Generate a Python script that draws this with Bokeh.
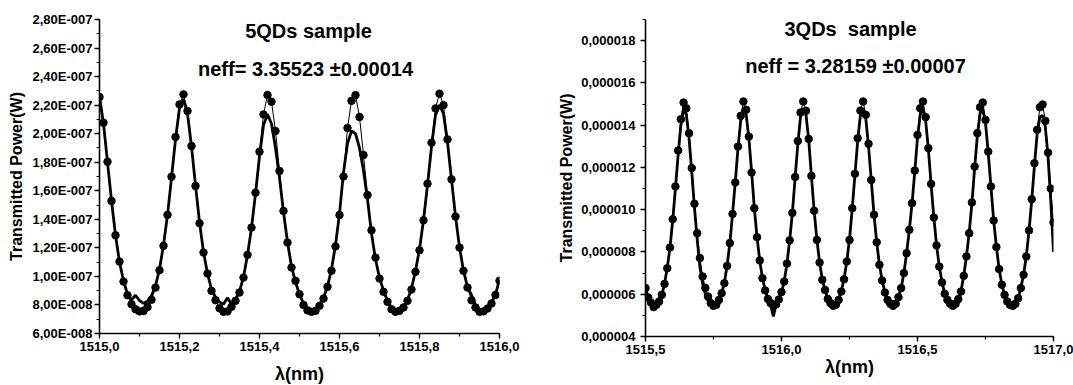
import numpy as np
from bokeh.plotting import figure
from bokeh.layouts import row
from bokeh.models import Range1d, SingleIntervalTicker, CustomJSTickFormatter, Label
from bokeh.embed import file_html
from bokeh.resources import INLINE

# ---------------- data ----------------
# Left panel: 5QDs sample, wavelength grid 1515.00 .. 1516.00 step 0.01 nm, power in 1e-8 W
left_start, left_step = 1515.00, 0.01
left_data_e8 = [
    22.57, 20.77, 18.04, 15.29, 12.88, 11.04, 9.64, 8.68, 8.05, 7.70,
    7.55, 7.58, 7.85, 8.36, 9.22, 10.43, 12.14, 14.31, 16.99, 19.77,
    22.05, 22.75, 21.59, 19.14, 16.34, 13.72, 11.67, 10.20, 8.99, 8.33,
    7.77, 7.52, 7.55, 7.87, 8.29, 8.87, 9.92, 11.51, 13.42, 15.87,
    18.74, 21.35, 22.71, 22.24, 20.19, 17.39, 14.59, 12.37, 10.62, 9.69,
    8.75, 8.00, 7.62, 7.52, 7.59, 7.94, 8.45, 9.27, 10.40, 12.10,
    14.30, 17.00, 20.40, 22.30, 22.70, 21.17, 18.50, 15.70, 13.23, 11.32,
    9.85, 8.92, 8.22, 7.70, 7.52, 7.59, 7.82, 8.29, 9.08, 10.32,
    11.83, 13.93, 16.50, 19.37, 21.77, 22.80, 22.00, 19.60, 16.80, 14.19,
    12.02, 10.39, 9.22, 8.33, 7.82, 7.52, 7.55, 7.75, 8.10, 8.70,
    9.70,
]
left_fit_e8 = [
    22.60, 20.70, 18.00, 15.30, 12.90, 11.00, 9.70, 8.75, 8.35, 8.68,
    8.30, 8.12, 8.25, 8.65, 9.35, 10.50, 12.20, 14.30, 16.90, 19.60,
    21.80, 22.40, 21.40, 19.10, 16.40, 13.80, 11.70, 10.20, 9.10, 8.55,
    8.20, 8.05, 8.50, 8.05, 8.40, 8.95, 9.95, 11.50, 13.40, 15.80,
    18.40, 20.60, 21.35, 20.70, 19.00, 16.90, 14.50, 12.40, 10.70, 9.60,
    8.75, 8.10, 7.72, 7.60, 7.68, 8.00, 8.50, 9.30, 10.50, 12.20,
    14.40, 17.30, 19.30, 20.20, 20.00, 19.00, 17.40, 15.40, 13.00, 11.20,
    9.90, 9.00, 8.30, 7.80, 7.62, 7.66, 7.88, 8.35, 9.15, 10.40,
    11.90, 13.95, 16.40, 19.10, 21.30, 22.00, 21.40, 19.40, 16.80, 14.20,
    12.05, 10.40, 9.25, 8.70, 8.00, 7.65, 7.62, 7.82, 8.15, 8.75,
    9.75,
]

# Right panel: 3QDs sample, wavelength grid 1515.50 .. 1517.00 step 0.01 nm, power in 1e-6 W
right_start, right_step = 1515.50, 0.01
right_data_e6 = [
    6.29, 5.85, 5.61, 5.39, 5.50, 5.66, 5.97, 6.49, 7.23, 8.21,
    9.55, 11.10, 12.80, 14.28, 15.07, 14.80, 13.62, 11.97, 10.28, 8.89,
    7.71, 6.84, 6.30, 5.89, 5.58, 5.45, 5.50, 5.73, 6.05, 6.52,
    7.34, 8.42, 9.80, 11.29, 12.99, 14.44, 15.12, 14.73, 13.46, 11.76,
    10.07, 8.70, 7.60, 6.76, 6.18, 5.78, 5.58, 5.45, 5.52, 5.75,
    6.10, 6.60, 7.45, 8.55, 9.85, 11.55, 13.25, 14.60, 15.12, 14.68,
    13.35, 11.60, 9.95, 8.57, 7.50, 6.68, 6.20, 5.78, 5.58, 5.45,
    5.50, 5.73, 6.13, 6.71, 7.55, 8.57, 10.07, 11.70, 13.38, 14.69,
    15.12, 14.49, 13.12, 11.41, 9.76, 8.46, 7.39, 6.65, 6.08, 5.73,
    5.55, 5.45, 5.55, 5.86, 6.29, 7.00, 7.94, 9.05, 10.31, 11.85,
    13.54, 14.80, 15.12, 14.38, 12.91, 11.22, 9.63, 8.31, 7.31, 6.56,
    6.02, 5.73, 5.55, 5.45, 5.55, 5.77, 6.13, 6.87, 7.79, 8.89,
    10.34, 12.04, 13.62, 14.85, 15.07, 14.25, 12.75, 11.10, 9.49, 8.23,
    7.19, 6.45, 5.97, 5.66, 5.50, 5.45, 5.55, 5.81, 6.29, 6.92,
    7.79, 9.02, 10.50, 12.20, 13.78, 14.85, 14.98, 14.20, 12.70, 11.00,
    9.40,
]
right_fit_e6 = [
    6.30, 5.80, 5.50, 5.30, 5.45, 5.65, 5.95, 6.50, 7.25, 8.20,
    9.50, 11.00, 12.60, 14.00, 14.75, 14.50, 13.40, 11.80, 10.10, 8.60,
    7.30, 6.50, 6.00, 5.70, 5.50, 5.45, 5.50, 5.70, 6.05, 6.55,
    7.35, 8.40, 9.80, 11.30, 12.90, 14.20, 14.80, 14.50, 13.40, 11.80,
    10.10, 8.70, 7.60, 6.75, 6.20, 5.75, 5.50, 4.95, 5.50, 5.75,
    6.10, 6.60, 7.45, 8.55, 9.85, 11.50, 13.10, 14.40, 14.80, 14.50,
    13.30, 11.60, 9.95, 8.60, 7.50, 6.70, 6.20, 5.80, 5.60, 5.48,
    5.52, 5.75, 6.15, 6.72, 7.55, 8.60, 10.05, 11.65, 13.25, 14.45,
    14.80, 14.30, 13.00, 11.40, 9.78, 8.47, 7.40, 6.66, 6.10, 5.75,
    5.57, 5.48, 5.57, 5.88, 6.30, 7.00, 7.95, 9.05, 10.30, 11.80,
    13.40, 14.50, 14.80, 14.20, 12.85, 11.20, 9.65, 8.33, 7.32, 6.58,
    6.04, 5.75, 5.57, 5.48, 5.57, 5.78, 6.15, 6.88, 7.80, 8.90,
    10.30, 11.95, 13.50, 14.55, 14.75, 14.10, 12.70, 11.10, 9.50, 8.25,
    7.20, 6.47, 5.98, 5.68, 5.52, 5.47, 5.57, 5.82, 6.30, 6.93,
    7.80, 9.00, 10.45, 12.10, 13.60, 14.40, 14.45, 13.90, 12.50, 10.40,
    8.00,
]

left_titles = ["5QDs sample", "neff= 3.35523 \u00b10.00014"]
right_titles = ["3QDs\u00a0 sample", "neff = 3.28159 \u00b10.00007"]

FONT = "Liberation Sans"

lx = np.round(left_start + left_step * np.arange(len(left_data_e8)), 4)
ly = np.array(left_data_e8) * 1e-8
lf = np.array(left_fit_e8) * 1e-8
rx = np.round(right_start + right_step * np.arange(len(right_data_e6)), 4)
ry = np.array(right_data_e6) * 1e-6
rf = np.array(right_fit_e6) * 1e-6

sci_fmt = CustomJSTickFormatter(code="""
const s = tick.toExponential(2);
const parts = s.split('e');
const e = parseInt(parts[1]);
const sign = e < 0 ? '-' : '+';
return parts[0].replace('.', ',') + 'E' + sign + String(Math.abs(e)).padStart(3, '0');
""")
fix6_fmt = CustomJSTickFormatter(code="return tick.toFixed(6).replace('.', ',');")
fix1_fmt = CustomJSTickFormatter(code="return tick.toFixed(1).replace('.', ',');")


def style(p, xint, yint, yfmt, xstand, ystand, xls, yls):
    p.xaxis.ticker = SingleIntervalTicker(interval=xint, num_minor_ticks=2)
    p.yaxis.ticker = SingleIntervalTicker(interval=yint, num_minor_ticks=2)
    p.xaxis.formatter = fix1_fmt
    p.yaxis.formatter = yfmt
    p.grid.visible = False
    p.outline_line_color = None
    p.background_fill_color = "white"
    p.border_fill_color = "white"
    for ax in (p.xaxis[0], p.yaxis[0]):
        ax.axis_line_width = 1.6
        ax.axis_line_color = "black"
        ax.major_tick_line_width = 1.4
        ax.minor_tick_line_width = 1.2
        ax.major_tick_in = 0
        ax.minor_tick_in = 0
        ax.major_tick_out = 5
        ax.minor_tick_out = 3
        ax.major_label_text_font = FONT
        ax.major_label_text_font_style = "bold"
        ax.major_label_text_font_size = "13px"
        ax.major_label_text_color = "black"
        ax.axis_label_text_font = FONT
        ax.axis_label_text_font_style = "bold"
        ax.axis_label_text_color = "black"
    p.xaxis.axis_label = "\u03bb(nm)"
    p.xaxis.axis_label_text_font_size = "18px"
    p.yaxis.axis_label = "Transmitted Power(W)"
    p.yaxis.axis_label_text_font_size = "16px"
    p.xaxis.major_label_standoff = xstand
    p.yaxis.major_label_standoff = ystand
    p.xaxis.axis_label_standoff = xls
    p.yaxis.axis_label_standoff = yls


def draw(p, x, y, f):
    p.line(x, y, line_color="black", line_width=1.0)
    p.line(x, f, line_color="black", line_width=2.8)
    p.scatter(x, y, size=7.5, marker="circle", fill_color="black", line_color="black")


p1 = figure(frame_width=400, frame_height=314,
            x_range=Range1d(1515.0, 1516.0), y_range=Range1d(6e-8, 2.8e-7),
            min_border_left=99, min_border_right=46, min_border_top=19, min_border_bottom=52,
            output_backend="svg", toolbar_location=None)
style(p1, 0.2, 2e-8, sci_fmt, 3, 2, 10, 5)
draw(p1, lx, ly, lf)
p1.add_layout(Label(x=1515.5225, y=2.718e-7, text=left_titles[0], text_align="center",
                    text_baseline="middle", text_font=FONT, text_font_style="bold",
                    text_font_size="20px", text_color="black"))
p1.add_layout(Label(x=1515.515, y=2.45e-7, text=left_titles[1], text_align="center",
                    text_baseline="middle", text_font=FONT, text_font_style="bold",
                    text_font_size="20px", text_color="black"))

p2 = figure(frame_width=408, frame_height=317,
            x_range=Range1d(1515.5, 1517.0), y_range=Range1d(4e-6, 1.9e-5),
            min_border_left=100, min_border_right=20, min_border_top=13, min_border_bottom=55,
            output_backend="svg", toolbar_location=None)
style(p2, 0.5, 2e-6, fix6_fmt, 3, 5, 0, 3)
draw(p2, rx, ry, rf)
p2.add_layout(Label(x=1516.254, y=1.8555e-5, text=right_titles[0], text_align="center",
                    text_baseline="middle", text_font=FONT, text_font_style="bold",
                    text_font_size="20px", text_color="black"))
p2.add_layout(Label(x=1516.272, y=1.682e-5, text=right_titles[1], text_align="center",
                    text_baseline="middle", text_font=FONT, text_font_style="bold",
                    text_font_size="20px", text_color="black"))

layout = row(p1, p2)
open("out.html", "w").write(file_html(layout, INLINE))
